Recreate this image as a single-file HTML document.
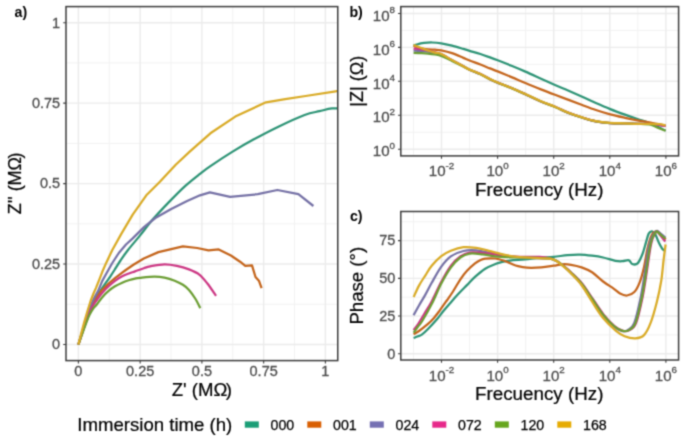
<!DOCTYPE html>
<html><head><meta charset="utf-8"><title>EIS</title><style>
html,body{margin:0;padding:0;background:#fff;}
svg{display:block;}
text{font-family:"Liberation Sans",sans-serif;}
.tk{fill:#4D4D4D;font-size:14px;}
.ti{fill:#000;font-size:17.5px;}
.tag{fill:#000;font-size:15px;font-weight:bold;}
.lg{fill:#000;font-size:14px;}
.tk2{stroke:#4D4D4D;stroke-width:0.3px;}
.ttl{stroke:#000;stroke-width:0.22px;}
</style></head><body>
<svg width="685" height="441" viewBox="0 0 685 441">
<filter id="bl" x="0" y="0" width="685" height="441" filterUnits="userSpaceOnUse" color-interpolation-filters="sRGB"><feConvolveMatrix order="3" kernelMatrix="0.03607 0.11778 0.03607 0.11778 0.38462 0.11778 0.03607 0.11778 0.03607" divisor="1" edgeMode="duplicate" preserveAlpha="true"/></filter>
<g filter="url(#bl)">
<rect width="685" height="441" fill="#fff"/>
<defs><clipPath id="ca"><rect x="66" y="6.6" width="271.75" height="354"/></clipPath><clipPath id="cb"><rect x="400.8" y="6.6" width="277.8" height="149.3"/></clipPath><clipPath id="cc"><rect x="400.8" y="211.5" width="277.8" height="148.5"/></clipPath></defs>
<line x1="109.28" y1="6.6" x2="109.28" y2="360.6" stroke="#F2F2F2" stroke-width="1.0"/>
<line x1="171.03" y1="6.6" x2="171.03" y2="360.6" stroke="#F2F2F2" stroke-width="1.0"/>
<line x1="232.78" y1="6.6" x2="232.78" y2="360.6" stroke="#F2F2F2" stroke-width="1.0"/>
<line x1="294.52" y1="6.6" x2="294.52" y2="360.6" stroke="#F2F2F2" stroke-width="1.0"/>
<line x1="66" y1="304.27" x2="337.75" y2="304.27" stroke="#F2F2F2" stroke-width="1.0"/>
<line x1="66" y1="223.82" x2="337.75" y2="223.82" stroke="#F2F2F2" stroke-width="1.0"/>
<line x1="66" y1="143.38" x2="337.75" y2="143.38" stroke="#F2F2F2" stroke-width="1.0"/>
<line x1="66" y1="62.93" x2="337.75" y2="62.93" stroke="#F2F2F2" stroke-width="1.0"/>
<line x1="78.4" y1="6.6" x2="78.4" y2="360.6" stroke="#EBEBEB" stroke-width="1.4"/>
<line x1="140.15" y1="6.6" x2="140.15" y2="360.6" stroke="#EBEBEB" stroke-width="1.4"/>
<line x1="201.9" y1="6.6" x2="201.9" y2="360.6" stroke="#EBEBEB" stroke-width="1.4"/>
<line x1="263.65" y1="6.6" x2="263.65" y2="360.6" stroke="#EBEBEB" stroke-width="1.4"/>
<line x1="325.4" y1="6.6" x2="325.4" y2="360.6" stroke="#EBEBEB" stroke-width="1.4"/>
<line x1="66" y1="344.5" x2="337.75" y2="344.5" stroke="#EBEBEB" stroke-width="1.4"/>
<line x1="66" y1="264.05" x2="337.75" y2="264.05" stroke="#EBEBEB" stroke-width="1.4"/>
<line x1="66" y1="183.6" x2="337.75" y2="183.6" stroke="#EBEBEB" stroke-width="1.4"/>
<line x1="66" y1="103.15" x2="337.75" y2="103.15" stroke="#EBEBEB" stroke-width="1.4"/>
<line x1="66" y1="22.7" x2="337.75" y2="22.7" stroke="#EBEBEB" stroke-width="1.4"/>
<g clip-path="url(#ca)" fill="none" stroke-width="2.25" stroke-linejoin="round" stroke-linecap="butt">
<path d="M78.4,344.5 C78.95,342.75 80.6,337.42 81.7,334 C82.8,330.58 83.87,327.25 85,324 C86.13,320.75 87.3,317.58 88.5,314.5 C89.7,311.42 90.95,308.25 92.2,305.5 C93.45,302.75 94.63,300.43 96,298 C97.37,295.57 98.75,293.45 100.4,290.9 C102.05,288.35 104.23,285.13 105.9,282.7 C107.57,280.27 108.97,278.42 110.4,276.3 C111.83,274.18 112.82,272.63 114.5,270 C116.18,267.37 118.25,263.83 120.5,260.5 C122.75,257.17 124.83,254.07 128,250 C131.17,245.93 135.32,241.25 139.5,236.1 C143.68,230.95 148.2,224.77 153.1,219.1 C158,213.43 163.62,207.57 168.9,202.1 C174.18,196.63 179.62,191.02 184.8,186.3 C189.98,181.58 195.73,177.17 200,173.8 C204.27,170.43 204.9,169.83 210.4,166.1 C215.9,162.37 225.83,155.82 233,151.4 C240.17,146.98 245.83,143.72 253.4,139.6 C260.97,135.48 269.87,130.8 278.4,126.7 C286.93,122.6 297.75,117.58 304.6,115 C311.45,112.42 314.93,112.3 319.5,111.2 C324.07,110.1 327.75,108.83 332,108.4 C336.25,107.97 342.83,108.57 345,108.6" stroke="#2E9476"/>
<path d="M78.4,344.5 L81.8,334.2 L85.2,324 L88.8,314.2 L92.5,305.3 L96.6,297.5 L101.5,290.5 L108.6,283.6 L115,278.2 L122.2,272.7 L125.8,270 L133.8,264.5 L143.8,258.5 L158.4,252.1 L182.9,246.3 L197.2,248 L208.5,250.4 L218.7,249.4 L230.9,255.5 L240.1,261.7 L245.3,265.8 L252,265.4 L255.5,277 L258.9,280.7 L261.6,288.2" stroke="#C4651C"/>
<path d="M78.4,344.5 L81.5,334 L84.7,323.5 L88,313 L91.5,303.5 L95,296.5 L98.2,290.9 L102.3,280.9 L106.8,272.7 L112,263.5 L118.8,253 L126,244.5 L132.7,238.4 L144,227.1 L155.3,218 L171.2,208.9 L187.1,201 L200,195.3 L209.9,192.3 L230.1,196.8 L257.7,194.2 L277.4,190 L298.4,194.2 L313.4,206" stroke="#7672A6"/>
<path d="M78.4,344.5 C78.97,342.8 80.65,337.68 81.8,334.3 C82.95,330.92 84.12,327.5 85.3,324.2 C86.48,320.9 87.67,317.53 88.9,314.5 C90.13,311.47 91.38,308.42 92.7,306 C94.02,303.58 95.2,302.22 96.8,300 C98.4,297.78 100.33,294.98 102.3,292.7 C104.27,290.42 106.48,288.27 108.6,286.3 C110.72,284.33 112.73,282.57 115,280.9 C117.27,279.23 119.78,277.58 122.2,276.3 C124.62,275.02 127.37,274.02 129.5,273.2 C131.63,272.38 132.62,272.23 135,271.4 C137.38,270.57 141.27,269.05 143.8,268.2 C146.33,267.35 146.75,266.95 150.2,266.3 C153.65,265.65 160.07,264.38 164.5,264.3 C168.93,264.22 172.72,264.95 176.8,265.8 C180.88,266.65 185.25,267.93 189,269.4 C192.75,270.87 196.23,272.25 199.3,274.6 C202.37,276.95 204.62,279.97 207.4,283.5 C210.18,287.03 214.57,293.75 216,295.8" stroke="#CC3884"/>
<path d="M78.4,344.5 C78.98,342.83 80.7,337.83 81.9,334.5 C83.1,331.17 84.35,327.75 85.6,324.5 C86.85,321.25 88.13,317.67 89.4,315 C90.67,312.33 91.97,310.25 93.2,308.5 C94.43,306.75 95.28,306.38 96.8,304.5 C98.32,302.62 100.33,299.47 102.3,297.2 C104.27,294.93 106.48,292.72 108.6,290.9 C110.72,289.08 112.73,287.67 115,286.3 C117.27,284.93 119.78,283.75 122.2,282.7 C124.62,281.65 127.37,280.68 129.5,280 C131.63,279.32 133.25,278.97 135,278.6 C136.75,278.23 136.78,278.13 140,277.8 C143.22,277.47 150.22,276.63 154.3,276.6 C158.38,276.57 161.1,276.92 164.5,277.6 C167.9,278.28 171.63,279.5 174.7,280.7 C177.77,281.9 180.52,283.27 182.9,284.8 C185.28,286.33 186.95,287.62 189,289.9 C191.05,292.18 193.32,295.47 195.2,298.5 C197.08,301.53 199.45,306.5 200.3,308.1" stroke="#6C9E34"/>
<path d="M78.4,344.5 L81.2,333.5 L84.2,322.3 L87.5,311 L90.6,301 L93.5,293.5 L95.9,288.1 L99.5,279.1 L102.3,271.8 L106.4,262.4 L112.3,250 L121.3,233.9 L132.7,214.6 L146.3,195.3 L159.9,181.7 L175.7,164.7 L190,151.4 L210.4,133.3 L235.3,116.6 L266,102.3 L285.2,99.2 L305.6,96 L335.6,91.3 L342,90.3" stroke="#D9AB27"/>
</g>
<rect x="66" y="6.6" width="271.75" height="354" fill="none" stroke="#3C3C3C" stroke-width="1.5"/>
<path d="M78.4,360.6 v2.8 M140.15,360.6 v2.8 M201.9,360.6 v2.8 M263.65,360.6 v2.8 M325.4,360.6 v2.8 M66,344.5 h-2.8 M66,264.05 h-2.8 M66,183.6 h-2.8 M66,103.15 h-2.8 M66,22.7 h-2.8" stroke="#3C3C3C" stroke-width="1.1" fill="none"/>
<line x1="413.45" y1="6.6" x2="413.45" y2="155.9" stroke="#F2F2F2" stroke-width="1.0"/>
<line x1="469.55" y1="6.6" x2="469.55" y2="155.9" stroke="#F2F2F2" stroke-width="1.0"/>
<line x1="525.65" y1="6.6" x2="525.65" y2="155.9" stroke="#F2F2F2" stroke-width="1.0"/>
<line x1="581.75" y1="6.6" x2="581.75" y2="155.9" stroke="#F2F2F2" stroke-width="1.0"/>
<line x1="637.85" y1="6.6" x2="637.85" y2="155.9" stroke="#F2F2F2" stroke-width="1.0"/>
<line x1="400.8" y1="132.23" x2="678.6" y2="132.23" stroke="#F2F2F2" stroke-width="1.0"/>
<line x1="400.8" y1="98.29" x2="678.6" y2="98.29" stroke="#F2F2F2" stroke-width="1.0"/>
<line x1="400.8" y1="64.35" x2="678.6" y2="64.35" stroke="#F2F2F2" stroke-width="1.0"/>
<line x1="400.8" y1="30.41" x2="678.6" y2="30.41" stroke="#F2F2F2" stroke-width="1.0"/>
<line x1="441.5" y1="6.6" x2="441.5" y2="155.9" stroke="#EBEBEB" stroke-width="1.4"/>
<line x1="497.6" y1="6.6" x2="497.6" y2="155.9" stroke="#EBEBEB" stroke-width="1.4"/>
<line x1="553.7" y1="6.6" x2="553.7" y2="155.9" stroke="#EBEBEB" stroke-width="1.4"/>
<line x1="609.8" y1="6.6" x2="609.8" y2="155.9" stroke="#EBEBEB" stroke-width="1.4"/>
<line x1="665.9" y1="6.6" x2="665.9" y2="155.9" stroke="#EBEBEB" stroke-width="1.4"/>
<line x1="400.8" y1="149.2" x2="678.6" y2="149.2" stroke="#EBEBEB" stroke-width="1.4"/>
<line x1="400.8" y1="115.26" x2="678.6" y2="115.26" stroke="#EBEBEB" stroke-width="1.4"/>
<line x1="400.8" y1="81.32" x2="678.6" y2="81.32" stroke="#EBEBEB" stroke-width="1.4"/>
<line x1="400.8" y1="47.38" x2="678.6" y2="47.38" stroke="#EBEBEB" stroke-width="1.4"/>
<line x1="400.8" y1="13.44" x2="678.6" y2="13.44" stroke="#EBEBEB" stroke-width="1.4"/>
<g clip-path="url(#cb)" fill="none" stroke-width="2.25" stroke-linejoin="round">
<path d="M413.6,45.4 C414.08,45.27 415.43,44.9 416.5,44.6 C417.57,44.3 418.75,43.88 420,43.6 C421.25,43.32 422,43.08 424,42.9 C426,42.72 429.13,42.43 432,42.5 C434.87,42.57 437.87,42.78 441.2,43.3 C444.53,43.82 448.3,44.67 452,45.6 C455.7,46.53 460.47,48.03 463.4,48.9 C466.33,49.77 466.77,49.95 469.6,50.8 C472.43,51.65 477,52.9 480.4,54 C483.8,55.1 487.12,56.35 490,57.4 C492.88,58.45 494.02,58.87 497.7,60.3 C501.38,61.73 507.48,64.12 512.1,66 C516.72,67.88 520.48,69.44 525.4,71.6 C530.32,73.76 536.67,76.71 541.6,78.94 C546.53,81.17 550.5,83.01 555,84.97 C559.5,86.94 564.07,88.77 568.6,90.74 C573.13,92.72 577.65,94.75 582.2,96.81 C586.75,98.87 591.23,101.03 595.9,103.08 C600.57,105.13 605.35,107.2 610.2,109.13 C615.05,111.06 620.45,113.02 625,114.66 C629.55,116.31 633.52,117.65 637.5,118.99 C641.48,120.34 645.65,121.52 648.9,122.73 C652.15,123.94 654.22,124.94 657,126.27 C659.78,127.6 664.17,129.97 665.6,130.71" stroke="#2E9476"/>
<path d="M413.6,45.5 C414,45.72 414.93,46.35 416,46.8 C417.07,47.25 418,47.77 420,48.2 C422,48.63 425.5,49.15 428,49.4 C430.5,49.65 432.8,49.54 435,49.7 C437.2,49.86 438.37,49.8 441.2,50.37 C444.03,50.95 448.3,51.89 452,53.14 C455.7,54.39 460.47,56.67 463.4,57.9 C466.33,59.13 466.77,59.41 469.6,60.51 C472.43,61.61 477,63.19 480.4,64.5 C483.8,65.81 487.12,67.25 490,68.4 C492.88,69.55 494.02,69.91 497.7,71.4 C501.38,72.89 507.48,75.4 512.1,77.35 C516.72,79.29 520.48,81.03 525.4,83.07 C530.32,85.12 536.67,87.66 541.6,89.61 C546.53,91.56 550.5,93.07 555,94.78 C559.5,96.48 564.07,98.15 568.6,99.86 C573.13,101.57 577.65,103.34 582.2,105.03 C586.75,106.73 591.23,108.46 595.9,110.02 C600.57,111.58 605.35,113.1 610.2,114.4 C615.05,115.7 620.45,116.82 625,117.8 C629.55,118.78 633.23,119.5 637.5,120.3 C641.77,121.1 645.92,121.72 650.6,122.6 C655.28,123.48 663.1,125.1 665.6,125.6" stroke="#C4651C"/>
<path d="M413.6,50.6 C414.67,50.65 417.6,50.73 420,50.9 C422.4,51.07 425.5,51.28 428,51.6 C430.5,51.92 432.8,52.33 435,52.8 C437.2,53.27 438.37,53.2 441.2,54.44 C444.03,55.69 448.3,58.3 452,60.28 C455.7,62.26 460.47,64.76 463.4,66.34 C466.33,67.91 466.77,68.44 469.6,69.74 C472.43,71.03 477,72.53 480.4,74.1 C483.8,75.67 487.12,77.73 490,79.15 C492.88,80.57 494.02,81.09 497.7,82.61 C501.38,84.13 507.48,86.36 512.1,88.28 C516.72,90.2 520.48,91.92 525.4,94.15 C530.32,96.38 536.67,99.55 541.6,101.66 C546.53,103.77 550.5,104.95 555,106.83 C559.5,108.7 564.07,111.11 568.6,112.9 C573.13,114.69 577.65,116.14 582.2,117.54 C586.75,118.95 591.23,120.39 595.9,121.3 C600.57,122.22 605.35,122.7 610.2,123.05 C615.05,123.39 620.45,123.27 625,123.4 C629.55,123.53 633.23,123.7 637.5,123.8 C641.77,123.9 645.92,123.63 650.6,124 C655.28,124.37 663.1,125.67 665.6,126" stroke="#7672A6"/>
<path d="M413.6,48.6 C414.67,48.7 417.6,48.88 420,49.2 C422.4,49.52 425.5,49.98 428,50.5 C430.5,51.02 432.8,51.69 435,52.3 C437.2,52.91 438.37,52.83 441.2,54.14 C444.03,55.46 448.3,58.15 452,60.18 C455.7,62.21 460.47,64.74 463.4,66.34 C466.33,67.93 466.77,68.44 469.6,69.74 C472.43,71.03 477,72.53 480.4,74.1 C483.8,75.67 487.12,77.73 490,79.15 C492.88,80.57 494.02,81.09 497.7,82.61 C501.38,84.13 507.48,86.36 512.1,88.28 C516.72,90.2 520.48,91.92 525.4,94.15 C530.32,96.38 536.67,99.55 541.6,101.66 C546.53,103.77 550.5,104.95 555,106.83 C559.5,108.7 564.07,111.11 568.6,112.9 C573.13,114.69 577.65,116.14 582.2,117.54 C586.75,118.95 591.23,120.39 595.9,121.3 C600.57,122.22 605.35,122.7 610.2,123.05 C615.05,123.39 620.45,123.27 625,123.4 C629.55,123.53 633.23,123.7 637.5,123.8 C641.77,123.9 645.92,123.63 650.6,124 C655.28,124.37 663.1,125.67 665.6,126" stroke="#CC3884"/>
<path d="M413.6,52.8 C414.67,52.85 417.6,52.97 420,53.1 C422.4,53.23 425.5,53.37 428,53.6 C430.5,53.83 432.8,54.13 435,54.5 C437.2,54.87 438.37,54.78 441.2,55.84 C444.03,56.91 448.3,59.1 452,60.88 C455.7,62.66 460.47,65.04 463.4,66.54 C466.33,68.03 466.77,68.56 469.6,69.84 C472.43,71.12 477,72.63 480.4,74.2 C483.8,75.77 487.12,77.83 490,79.25 C492.88,80.67 494.02,81.19 497.7,82.71 C501.38,84.23 507.48,86.46 512.1,88.38 C516.72,90.3 520.48,92.02 525.4,94.25 C530.32,96.48 536.67,99.65 541.6,101.76 C546.53,103.87 550.5,105.05 555,106.92 C559.5,108.8 564.07,111.21 568.6,113 C573.13,114.79 577.65,116.24 582.2,117.64 C586.75,119.05 591.23,120.49 595.9,121.4 C600.57,122.32 605.35,122.8 610.2,123.15 C615.05,123.49 620.45,123.39 625,123.5 C629.55,123.61 633.23,123.6 637.5,123.8 C641.77,124 647.23,124.03 650.6,124.7 C653.97,125.37 655.2,126.78 657.7,127.8 C660.2,128.82 664.28,130.3 665.6,130.8" stroke="#6C9E34"/>
<path d="M413.6,45 C414.67,45.42 417.6,46.58 420,47.5 C422.4,48.42 425.5,49.65 428,50.5 C430.5,51.35 432.8,52.01 435,52.6 C437.2,53.19 438.37,52.8 441.2,54.04 C444.03,55.29 448.3,58.05 452,60.08 C455.7,62.11 460.47,64.64 463.4,66.24 C466.33,67.83 466.77,68.34 469.6,69.64 C472.43,70.93 477,72.43 480.4,74 C483.8,75.57 487.12,77.63 490,79.05 C492.88,80.47 494.02,80.99 497.7,82.51 C501.38,84.03 507.48,86.26 512.1,88.18 C516.72,90.1 520.48,91.82 525.4,94.05 C530.32,96.28 536.67,99.45 541.6,101.56 C546.53,103.67 550.5,104.85 555,106.72 C559.5,108.6 564.07,111.01 568.6,112.8 C573.13,114.59 577.65,116.04 582.2,117.44 C586.75,118.85 591.23,120.29 595.9,121.2 C600.57,122.12 605.35,122.6 610.2,122.95 C615.05,123.29 620.45,123.16 625,123.3 C629.55,123.44 633.23,123.72 637.5,123.8 C641.77,123.88 647.02,123.73 650.6,123.8 C654.18,123.87 656.5,123.93 659,124.2 C661.5,124.47 664.5,125.2 665.6,125.4" stroke="#D9AB27"/>
</g>
<rect x="400.8" y="6.6" width="277.8" height="149.3" fill="none" stroke="#3C3C3C" stroke-width="1.5"/>
<path d="M441.5,155.9 v2.8 M497.6,155.9 v2.8 M553.7,155.9 v2.8 M609.8,155.9 v2.8 M665.9,155.9 v2.8 M400.8,149.2 h-2.8 M400.8,115.26 h-2.8 M400.8,81.32 h-2.8 M400.8,47.38 h-2.8 M400.8,13.44 h-2.8" stroke="#3C3C3C" stroke-width="1.1" fill="none"/>
<line x1="413.45" y1="211.5" x2="413.45" y2="360" stroke="#F2F2F2" stroke-width="1.0"/>
<line x1="469.55" y1="211.5" x2="469.55" y2="360" stroke="#F2F2F2" stroke-width="1.0"/>
<line x1="525.65" y1="211.5" x2="525.65" y2="360" stroke="#F2F2F2" stroke-width="1.0"/>
<line x1="581.75" y1="211.5" x2="581.75" y2="360" stroke="#F2F2F2" stroke-width="1.0"/>
<line x1="637.85" y1="211.5" x2="637.85" y2="360" stroke="#F2F2F2" stroke-width="1.0"/>
<line x1="400.8" y1="334.93" x2="678.6" y2="334.93" stroke="#F2F2F2" stroke-width="1.0"/>
<line x1="400.8" y1="297.2" x2="678.6" y2="297.2" stroke="#F2F2F2" stroke-width="1.0"/>
<line x1="400.8" y1="259.47" x2="678.6" y2="259.47" stroke="#F2F2F2" stroke-width="1.0"/>
<line x1="400.8" y1="221.74" x2="678.6" y2="221.74" stroke="#F2F2F2" stroke-width="1.0"/>
<line x1="441.5" y1="211.5" x2="441.5" y2="360" stroke="#EBEBEB" stroke-width="1.4"/>
<line x1="497.6" y1="211.5" x2="497.6" y2="360" stroke="#EBEBEB" stroke-width="1.4"/>
<line x1="553.7" y1="211.5" x2="553.7" y2="360" stroke="#EBEBEB" stroke-width="1.4"/>
<line x1="609.8" y1="211.5" x2="609.8" y2="360" stroke="#EBEBEB" stroke-width="1.4"/>
<line x1="665.9" y1="211.5" x2="665.9" y2="360" stroke="#EBEBEB" stroke-width="1.4"/>
<line x1="400.8" y1="353.8" x2="678.6" y2="353.8" stroke="#EBEBEB" stroke-width="1.4"/>
<line x1="400.8" y1="316.07" x2="678.6" y2="316.07" stroke="#EBEBEB" stroke-width="1.4"/>
<line x1="400.8" y1="278.34" x2="678.6" y2="278.34" stroke="#EBEBEB" stroke-width="1.4"/>
<line x1="400.8" y1="240.6" x2="678.6" y2="240.6" stroke="#EBEBEB" stroke-width="1.4"/>
<g clip-path="url(#cc)" fill="none" stroke-width="2.25" stroke-linejoin="round">
<path d="M413.6,338 C414.33,337.72 416.63,336.87 418,336.3 C419.37,335.73 420.13,335.82 421.8,334.6 C423.47,333.38 425.55,331.47 428,329 C430.45,326.53 434,322.72 436.5,319.8 C439,316.88 440.75,314.25 443,311.5 C445.25,308.75 447.5,306.17 450,303.3 C452.5,300.43 455.13,297.37 458,294.3 C460.87,291.23 464.37,287.8 467.2,284.9 C470.03,282 472,279.6 475,276.9 C478,274.2 481.8,270.85 485.2,268.7 C488.6,266.55 492.68,265.08 495.4,264 C498.12,262.92 499.07,262.77 501.5,262.2 C503.93,261.63 506.08,261.07 510,260.6 C513.92,260.13 520.07,259.87 525,259.4 C529.93,258.93 534.83,258.22 539.6,257.8 C544.37,257.38 548.93,257.35 553.6,256.9 C558.27,256.45 563.22,255.48 567.6,255.1 C571.98,254.72 575.82,254.5 579.9,254.6 C583.98,254.7 588.23,255.22 592.1,255.7 C595.97,256.18 599.23,256.65 603.1,257.5 C606.97,258.35 612.07,260.18 615.3,260.8 C618.53,261.42 620.23,261.28 622.5,261.2 C624.77,261.12 627.28,259.83 628.9,260.3 C630.52,260.77 630.75,263.48 632.2,264 C633.65,264.52 635.88,265.07 637.6,263.4 C639.32,261.73 641.12,257.45 642.5,254 C643.88,250.55 644.87,246.1 645.9,242.7 C646.93,239.3 647.67,235.5 648.7,233.6 C649.73,231.7 650.97,231.12 652.1,231.3 C653.23,231.48 654.37,232.8 655.5,234.7 C656.63,236.6 657.67,240.23 658.9,242.7 C660.13,245.17 661.78,248.18 662.9,249.5 C664.02,250.82 665.15,250.42 665.6,250.6" stroke="#2E9476"/>
<path d="M413.6,334.3 C414.5,333.75 416.65,332.68 419,331 C421.35,329.32 425.28,326.28 427.7,324.2 C430.12,322.12 431.53,320.73 433.5,318.5 C435.47,316.27 437.28,313.8 439.5,310.8 C441.72,307.8 444.55,303.72 446.8,300.5 C449.05,297.28 450.73,295.03 453,291.5 C455.27,287.97 458.07,282.75 460.4,279.3 C462.73,275.85 464.57,273.45 467,270.8 C469.43,268.15 472.82,265.17 475,263.4 C477.18,261.63 478.4,261 480.1,260.2 C481.8,259.4 482.65,258.88 485.2,258.6 C487.75,258.32 492.33,258.18 495.4,258.5 C498.47,258.82 501.05,259.67 503.6,260.5 C506.15,261.33 508.3,262.55 510.7,263.5 C513.1,264.45 515.28,265.5 518,266.2 C520.72,266.9 523.12,267.5 527,267.7 C530.88,267.9 536.87,267.73 541.3,267.4 C545.73,267.07 550.1,266.22 553.6,265.7 C557.1,265.18 559.38,264.45 562.3,264.3 C565.22,264.15 567.88,264.28 571.1,264.8 C574.32,265.32 578.1,266.15 581.6,267.4 C585.1,268.65 588.52,269.95 592.1,272.3 C595.68,274.65 599.47,278.75 603.1,281.5 C606.73,284.25 611.08,286.8 613.9,288.8 C616.72,290.8 617.82,292.38 620,293.5 C622.18,294.62 624.62,295.75 627,295.5 C629.38,295.25 632.18,294.2 634.3,292 C636.42,289.8 638.08,286.43 639.7,282.3 C641.32,278.17 642.75,272.58 644,267.2 C645.25,261.82 646.17,254.7 647.2,250 C648.23,245.3 649.17,241.88 650.2,239 C651.23,236.12 652.08,233.87 653.4,232.7 C654.72,231.53 656.52,231.38 658.1,232 C659.68,232.62 661.65,235.15 662.9,236.4 C664.15,237.65 665.15,238.98 665.6,239.5" stroke="#C4651C"/>
<path d="M413.6,315.2 C414.5,313.58 417.03,308.93 419,305.5 C420.97,302.07 423.28,298.38 425.4,294.6 C427.52,290.82 429.05,287.47 431.7,282.8 C434.35,278.13 438.12,271.02 441.3,266.6 C444.48,262.18 447.1,258.9 450.8,256.3 C454.5,253.7 459.27,251.98 463.5,251 C467.73,250.02 471.97,250.12 476.2,250.4 C480.43,250.68 484.93,252 488.9,252.7 C492.87,253.4 495.65,253.9 500,254.6 C504.35,255.3 509.57,256.37 515,256.9 C520.43,257.43 526.75,257.5 532.6,257.8 C538.45,258.1 546.02,258.12 550.1,258.7 C554.18,259.28 554.79,260 557.1,261.3 C559.41,262.6 561.68,264.6 563.94,266.5 C566.2,268.4 567.86,269.87 570.66,272.7 C573.45,275.53 577.23,279.12 580.69,283.5 C584.15,287.88 587.85,293.82 591.43,299 C595.01,304.18 598.59,310.1 602.17,314.6 C605.75,319.1 609.7,323.3 612.91,326 C616.11,328.7 618.93,330.12 621.4,330.8 C623.87,331.48 625.58,331.37 627.71,330.1 C629.85,328.83 632.04,328.65 634.2,323.2 C636.36,317.75 638.9,306.02 640.7,297.4 C642.5,288.78 643.75,279.4 645,271.5 C646.25,263.6 647.18,255.42 648.2,250 C649.22,244.58 649.95,242 651.1,239 C652.25,236 654.13,233.37 655.12,232 C656.12,230.63 656.17,230.55 657.08,230.8 C657.99,231.05 659.23,232.38 660.6,233.5 C661.97,234.62 664.52,236.83 665.3,237.5" stroke="#7672A6"/>
<path d="M413.6,330.1 C414.38,329.05 416.53,326.48 418.3,323.8 C420.07,321.12 421.97,317.72 424.2,314 C426.43,310.28 428.85,306.87 431.7,301.5 C434.55,296.13 438.12,287.75 441.3,281.8 C444.48,275.85 447.63,270.03 450.8,265.8 C453.97,261.57 457.13,258.62 460.3,256.4 C463.47,254.18 466.1,253.07 469.8,252.5 C473.5,251.93 477.88,252.62 482.5,253 C487.12,253.38 492.08,254.2 497.5,254.8 C502.92,255.4 507.98,256.25 515,256.6 C522.02,256.95 533.75,256.62 539.6,256.9 C545.45,257.18 547.18,257.57 550.1,258.3 C553.02,259.03 554.75,259.93 557.1,261.3 C559.45,262.67 561.82,264.6 564.2,266.5 C566.58,268.4 568.41,269.87 571.38,272.7 C574.34,275.53 578.43,279.12 582,283.5 C585.58,287.88 589.22,293.82 592.82,299 C596.43,304.18 600.04,310.1 603.65,314.6 C607.25,319.1 611.23,323.3 614.47,326 C617.71,328.7 620.58,330.12 623.09,330.8 C625.59,331.48 627.35,331.37 629.5,330.1 C631.65,328.83 633.83,328.65 636,323.2 C638.17,317.75 640.7,306.02 642.5,297.4 C644.3,288.78 645.55,279.4 646.8,271.5 C648.05,263.6 649.06,255.42 650,250 C650.94,244.58 651.5,241.92 652.45,239 C653.4,236.08 654.89,233.75 655.69,232.5 C656.49,231.25 656.44,231 657.26,231.5 C658.08,232 659.26,233.83 660.6,235.5 C661.94,237.17 664.52,240.5 665.3,241.5" stroke="#CC3884"/>
<path d="M413.6,332.7 C414.33,331.67 416.57,328.45 418,326.5 C419.43,324.55 419.92,324.73 422.2,321 C424.48,317.27 428.52,310.35 431.7,304.1 C434.88,297.85 438.12,289.58 441.3,283.5 C444.48,277.42 447.63,271.93 450.8,267.6 C453.97,263.27 457.13,259.83 460.3,257.5 C463.47,255.17 466.1,254.13 469.8,253.6 C473.5,253.07 478.27,253.85 482.5,254.3 C486.73,254.75 489.78,255.78 495.2,256.3 C500.62,256.82 508.77,257.15 515,257.4 C521.23,257.65 526.75,257.58 532.6,257.8 C538.45,258.02 546.02,258.12 550.1,258.7 C554.18,259.28 554.77,260 557.1,261.3 C559.43,262.6 561.77,264.6 564.1,266.5 C566.43,268.4 568.2,269.87 571.1,272.7 C574,275.53 577.97,279.12 581.5,283.5 C585.03,287.88 588.7,293.82 592.3,299 C595.9,304.18 599.5,310.1 603.1,314.6 C606.7,319.1 610.67,323.3 613.9,326 C617.13,328.7 620,330.12 622.5,330.8 C625,331.48 626.75,331.37 628.9,330.1 C631.05,328.83 633.23,328.65 635.4,323.2 C637.57,317.75 640.1,306.02 641.9,297.4 C643.7,288.78 644.95,279.4 646.2,271.5 C647.45,263.6 648.43,255.42 649.4,250 C650.37,244.58 650.98,241.92 652,239 C653.02,236.08 654.63,233.75 655.5,232.5 C656.37,231.25 656.35,231.13 657.2,231.5 C658.05,231.87 659.25,233.53 660.6,234.7 C661.95,235.87 664.52,237.87 665.3,238.5" stroke="#6C9E34"/>
<path d="M413.6,297.1 C414.5,295.18 417.03,289.23 419,285.6 C420.97,281.97 423.28,278.6 425.4,275.3 C427.52,272 429.05,268.98 431.7,265.8 C434.35,262.62 438.12,258.7 441.3,256.2 C444.48,253.7 447.1,252.3 450.8,250.8 C454.5,249.3 459.27,247.68 463.5,247.2 C467.73,246.72 471.97,247.3 476.2,247.9 C480.43,248.5 484.13,249.63 488.9,250.8 C493.67,251.97 499.62,253.85 504.8,254.9 C509.98,255.95 515.37,256.62 520,257.1 C524.63,257.58 527.58,257.53 532.6,257.8 C537.62,258.07 546.02,258.08 550.1,258.7 C554.18,259.32 554.77,260.12 557.1,261.5 C559.43,262.88 561.77,265 564.1,267 C566.43,269 568.2,270.5 571.1,273.5 C574,276.5 577.97,280.25 581.5,285 C585.03,289.75 588.7,296.5 592.3,302 C595.9,307.5 599.15,313.2 603.1,318 C607.05,322.8 612.42,327.77 616,330.8 C619.58,333.83 621.37,334.95 624.6,336.2 C627.83,337.45 632.17,338.48 635.4,338.3 C638.63,338.12 641.48,337.62 644,335.1 C646.52,332.58 648.35,328.77 650.5,323.2 C652.65,317.63 655.12,308.73 656.9,301.7 C658.68,294.67 660.08,287.95 661.2,281 C662.32,274.05 662.87,266.08 663.6,260 C664.33,253.92 665.27,247.08 665.6,244.5" stroke="#D9AB27"/>
</g>
<rect x="400.8" y="211.5" width="277.8" height="148.5" fill="none" stroke="#3C3C3C" stroke-width="1.5"/>
<path d="M441.5,360 v2.8 M497.6,360 v2.8 M553.7,360 v2.8 M609.8,360 v2.8 M665.9,360 v2.8 M400.8,353.8 h-2.8 M400.8,316.07 h-2.8 M400.8,278.34 h-2.8 M400.8,240.6 h-2.8" stroke="#3C3C3C" stroke-width="1.1" fill="none"/>
<text x="14.6" y="16.95" font-size="14.2px" fill="#000" font-weight="bold">a)</text>
<text x="349.4" y="16.95" font-size="14.2px" fill="#000" font-weight="bold">b)</text>
<text x="349.9" y="221.05" font-size="14.2px" fill="#000" font-weight="bold">c)</text>
<text transform="translate(52.04,349.3) scale(1,1.06)" font-size="14.5px" fill="#4D4D4D" class="tk2">0</text>
<text transform="translate(31.88,268.85) scale(1,1.06)" font-size="14.5px" fill="#4D4D4D" class="tk2">0.25</text>
<text transform="translate(39.94,188.4) scale(1,1.06)" font-size="14.5px" fill="#4D4D4D" class="tk2">0.5</text>
<text transform="translate(31.88,107.95) scale(1,1.06)" font-size="14.5px" fill="#4D4D4D" class="tk2">0.75</text>
<text transform="translate(52.04,27.5) scale(1,1.06)" font-size="14.5px" fill="#4D4D4D" class="tk2">1</text>
<text transform="translate(74.37,375.9) scale(1,1.06)" font-size="14.5px" fill="#4D4D4D" class="tk2">0</text>
<text transform="translate(126.04,375.9) scale(1,1.06)" font-size="14.5px" fill="#4D4D4D" class="tk2">0.25</text>
<text transform="translate(191.82,375.9) scale(1,1.06)" font-size="14.5px" fill="#4D4D4D" class="tk2">0.5</text>
<text transform="translate(249.54,375.9) scale(1,1.06)" font-size="14.5px" fill="#4D4D4D" class="tk2">0.75</text>
<text transform="translate(321.37,375.9) scale(1,1.06)" font-size="14.5px" fill="#4D4D4D" class="tk2">1</text>
<text transform="translate(372.75,156.4) scale(1,1.03)" font-size="15.1px" fill="#4D4D4D" class="tk2">10</text><text x="389.55" y="149.2" font-size="9.8px" fill="#4D4D4D" class="tk2">0</text>
<text transform="translate(372.75,122.46) scale(1,1.03)" font-size="15.1px" fill="#4D4D4D" class="tk2">10</text><text x="389.55" y="115.26" font-size="9.8px" fill="#4D4D4D" class="tk2">2</text>
<text transform="translate(372.75,88.52) scale(1,1.03)" font-size="15.1px" fill="#4D4D4D" class="tk2">10</text><text x="389.55" y="81.32" font-size="9.8px" fill="#4D4D4D" class="tk2">4</text>
<text transform="translate(372.75,54.58) scale(1,1.03)" font-size="15.1px" fill="#4D4D4D" class="tk2">10</text><text x="389.55" y="47.38" font-size="9.8px" fill="#4D4D4D" class="tk2">6</text>
<text transform="translate(372.75,20.64) scale(1,1.03)" font-size="15.1px" fill="#4D4D4D" class="tk2">10</text><text x="389.55" y="13.44" font-size="9.8px" fill="#4D4D4D" class="tk2">8</text>
<text transform="translate(428.75,175.8) scale(1,1.03)" font-size="15.1px" fill="#4D4D4D" class="tk2">10</text><text x="445.54" y="168.6" font-size="9.8px" fill="#4D4D4D" class="tk2">-2</text>
<text transform="translate(428.75,380.6) scale(1,1.03)" font-size="15.1px" fill="#4D4D4D" class="tk2">10</text><text x="445.54" y="373.4" font-size="9.8px" fill="#4D4D4D" class="tk2">-2</text>
<text transform="translate(486.48,175.8) scale(1,1.03)" font-size="15.1px" fill="#4D4D4D" class="tk2">10</text><text x="503.27" y="168.6" font-size="9.8px" fill="#4D4D4D" class="tk2">0</text>
<text transform="translate(486.48,380.6) scale(1,1.03)" font-size="15.1px" fill="#4D4D4D" class="tk2">10</text><text x="503.27" y="373.4" font-size="9.8px" fill="#4D4D4D" class="tk2">0</text>
<text transform="translate(542.58,175.8) scale(1,1.03)" font-size="15.1px" fill="#4D4D4D" class="tk2">10</text><text x="559.37" y="168.6" font-size="9.8px" fill="#4D4D4D" class="tk2">2</text>
<text transform="translate(542.58,380.6) scale(1,1.03)" font-size="15.1px" fill="#4D4D4D" class="tk2">10</text><text x="559.37" y="373.4" font-size="9.8px" fill="#4D4D4D" class="tk2">2</text>
<text transform="translate(598.68,175.8) scale(1,1.03)" font-size="15.1px" fill="#4D4D4D" class="tk2">10</text><text x="615.47" y="168.6" font-size="9.8px" fill="#4D4D4D" class="tk2">4</text>
<text transform="translate(598.68,380.6) scale(1,1.03)" font-size="15.1px" fill="#4D4D4D" class="tk2">10</text><text x="615.47" y="373.4" font-size="9.8px" fill="#4D4D4D" class="tk2">4</text>
<text transform="translate(654.78,175.8) scale(1,1.03)" font-size="15.1px" fill="#4D4D4D" class="tk2">10</text><text x="671.57" y="168.6" font-size="9.8px" fill="#4D4D4D" class="tk2">6</text>
<text transform="translate(654.78,380.6) scale(1,1.03)" font-size="15.1px" fill="#4D4D4D" class="tk2">10</text><text x="671.57" y="373.4" font-size="9.8px" fill="#4D4D4D" class="tk2">6</text>
<text transform="translate(387.34,358.6) scale(1,1.06)" font-size="14.5px" fill="#4D4D4D" class="tk2">0</text>
<text transform="translate(379.27,320.87) scale(1,1.06)" font-size="14.5px" fill="#4D4D4D" class="tk2">25</text>
<text transform="translate(379.27,283.14) scale(1,1.06)" font-size="14.5px" fill="#4D4D4D" class="tk2">50</text>
<text transform="translate(379.27,245.4) scale(1,1.06)" font-size="14.5px" fill="#4D4D4D" class="tk2">75</text>
<text x="171.74" y="396.4" font-size="18.6px" fill="#000" class="ttl">Z' (MΩ<tspan dx='-1.6'>)</tspan></text>
<text x="475.06" y="195.7" font-size="18.8px" fill="#000" class="ttl">Frecuency (Hz)</text>
<text x="475.06" y="400.4" font-size="18.8px" fill="#000" class="ttl">Frecuency (Hz)</text>
<text class="ttl" transform="translate(21.2,182.6) rotate(-90)" x="-31.65" y="0" font-size="18px" fill="#000">Z'' (MΩ<tspan dx='-1.6'>)</tspan></text>
<text class="ttl" transform="translate(362.6,81.25) rotate(-90)" x="-25.4" y="0" font-size="18px" fill="#000">|Z| (Ω)</text>
<text class="ttl" transform="translate(363,285.75) rotate(-90)" x="-38.87" y="0" font-size="18.6px" fill="#000">Phase (°)</text>
<text x="77.3" y="430.8" font-size="18.6px" fill="#000" class="ttl">Immersion time (h)</text>
<rect x="244.8" y="421.4" width="14" height="6.3" fill="#1B9E77"/>
<text x="270.6" y="429.7" font-size="14.2px" fill="#000" stroke="#000" stroke-width="0.25">000</text>
<rect x="307.3" y="421.4" width="14" height="6.3" fill="#D95F02"/>
<text x="333.1" y="429.7" font-size="14.2px" fill="#000" stroke="#000" stroke-width="0.25">001</text>
<rect x="369.8" y="421.4" width="14" height="6.3" fill="#7570B3"/>
<text x="395.6" y="429.7" font-size="14.2px" fill="#000" stroke="#000" stroke-width="0.25">024</text>
<rect x="432.3" y="421.4" width="14" height="6.3" fill="#E7298A"/>
<text x="458.1" y="429.7" font-size="14.2px" fill="#000" stroke="#000" stroke-width="0.25">072</text>
<rect x="494.8" y="421.4" width="14" height="6.3" fill="#66A61E"/>
<text x="520.6" y="429.7" font-size="14.2px" fill="#000" stroke="#000" stroke-width="0.25">120</text>
<rect x="557.3" y="421.4" width="14" height="6.3" fill="#E6AB02"/>
<text x="583.1" y="429.7" font-size="14.2px" fill="#000" stroke="#000" stroke-width="0.25">168</text>
</g>
</svg>
</body></html>
